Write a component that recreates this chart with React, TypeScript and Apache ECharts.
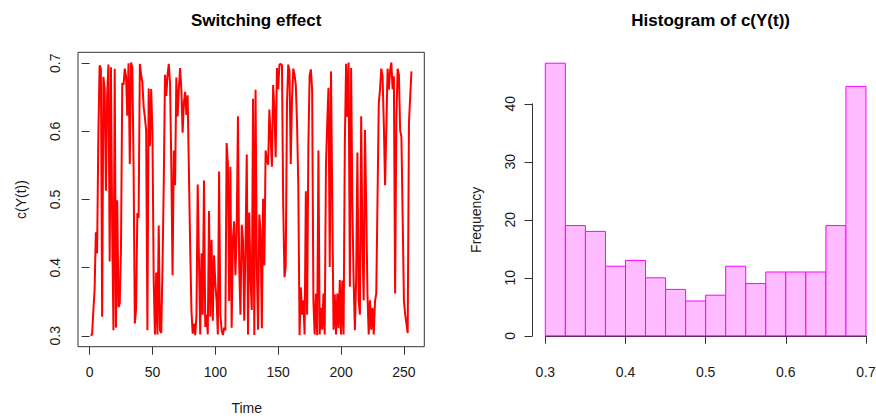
import React, { useEffect, useRef } from "react";
import * as echarts from "echarts";

// Time series c(Y(t)), t = 1..256
const seriesValues: number[] = [
  0.300, 0.302, 0.336, 0.368, 0.452, 0.421, 0.597, 0.697, 0.692, 0.328,
  0.680, 0.662, 0.513, 0.654, 0.698, 0.409, 0.694, 0.459, 0.308, 0.692,
  0.312, 0.499, 0.342, 0.348, 0.431, 0.671, 0.668, 0.692, 0.681, 0.623,
  0.700, 0.552, 0.701, 0.694, 0.548, 0.318, 0.339, 0.480, 0.473, 0.699,
  0.683, 0.672, 0.636, 0.621, 0.601, 0.308, 0.663, 0.578, 0.662, 0.598,
  0.381, 0.302, 0.393, 0.302, 0.462, 0.308, 0.304, 0.401, 0.522, 0.683,
  0.652, 0.682, 0.699, 0.671, 0.552, 0.389, 0.572, 0.521, 0.679, 0.622,
  0.662, 0.693, 0.661, 0.598, 0.642, 0.658, 0.624, 0.653, 0.541, 0.432,
  0.338, 0.303, 0.318, 0.301, 0.329, 0.522, 0.412, 0.302, 0.421, 0.331,
  0.528, 0.313, 0.331, 0.302, 0.483, 0.328, 0.441, 0.322, 0.418, 0.378,
  0.352, 0.302, 0.541, 0.331, 0.309, 0.301, 0.312, 0.308, 0.583, 0.552,
  0.351, 0.548, 0.312, 0.442, 0.468, 0.389, 0.452, 0.622, 0.401, 0.331,
  0.463, 0.441, 0.322, 0.431, 0.566, 0.302, 0.481, 0.383, 0.338, 0.648,
  0.301, 0.661, 0.402, 0.309, 0.478, 0.452, 0.311, 0.501, 0.403, 0.572,
  0.558, 0.551, 0.632, 0.591, 0.548, 0.668, 0.631, 0.562, 0.693, 0.662,
  0.698, 0.699, 0.697, 0.491, 0.386, 0.402, 0.641, 0.698, 0.688, 0.552,
  0.648, 0.692, 0.683, 0.668, 0.612, 0.521, 0.301, 0.371, 0.331, 0.352,
  0.302, 0.512, 0.331, 0.578, 0.682, 0.691, 0.661, 0.352, 0.302, 0.362,
  0.301, 0.572, 0.302, 0.341, 0.309, 0.362, 0.302, 0.551, 0.612, 0.664,
  0.401, 0.688, 0.502, 0.309, 0.361, 0.302, 0.362, 0.311, 0.382, 0.302,
  0.381, 0.302, 0.582, 0.699, 0.621, 0.701, 0.372, 0.693, 0.491, 0.381,
  0.308, 0.382, 0.569, 0.352, 0.331, 0.622, 0.432, 0.352, 0.602, 0.491,
  0.361, 0.302, 0.352, 0.309, 0.341, 0.302, 0.351, 0.362, 0.501, 0.641,
  0.662, 0.692, 0.681, 0.612, 0.521, 0.603, 0.692, 0.661, 0.689, 0.701,
  0.662, 0.681, 0.362, 0.621, 0.692, 0.683, 0.601, 0.592, 0.472, 0.352,
  0.331, 0.318, 0.304, 0.612, 0.652, 0.688,
];

// Histogram of c(Y(t))
const histBreaks: number[] = [
  0.3, 0.325, 0.35, 0.375, 0.4, 0.425, 0.45, 0.475, 0.5,
  0.525, 0.55, 0.575, 0.6, 0.625, 0.65, 0.675, 0.7,
];
const histCounts: number[] = [47, 19, 18, 12, 13, 10, 8, 6, 7, 12, 9, 11, 11, 11, 19, 43];

// Axis tick ranges [min, max, step]
const timeTicks: number[] = [0, 250, 50];
const valueTicks: number[] = [0.3, 0.7, 0.1];
const freqTicks: number[] = [0, 40, 10];

const FONT = "'Liberation Sans', Arial, Helvetica, sans-serif";
const TXT = "#1a1a1a";
const AX = "#333333";

export default function App() {
  const ref = useRef<HTMLDivElement>(null);

  useEffect(() => {
    if (!ref.current) return;
    const chart = echarts.init(ref.current, undefined, { renderer: "svg" });

    // Plot regions (R style: data range extended by 4%)
    const T = 52.3, PH = 294.4, PW = 346.3;
    const L1 = 78, L2 = 532.5;
    const n = seriesValues.length;
    const ext = (a: number, b: number): [number, number] => [a - (b - a) * 0.04, b + (b - a) * 0.04];
    const xLim1 = ext(1, n);
    const yLim1 = ext(valueTicks[0], valueTicks[1]);
    const xLim2 = ext(histBreaks[0], histBreaks[histBreaks.length - 1]);
    const yLim2 = ext(0, Math.max(...histCounts));

    const mapX = (v: number, lim: [number, number], L: number) => L + ((v - lim[0]) / (lim[1] - lim[0])) * PW;
    const mapY = (v: number, lim: [number, number]) => T + PH - ((v - lim[0]) / (lim[1] - lim[0])) * PH;

    const g1Left = mapX(timeTicks[0], xLim1, L1);
    const g1Right = mapX(timeTicks[1], xLim1, L1);
    const g1Top = mapY(valueTicks[1], yLim1);
    const g1Bottom = mapY(valueTicks[0], yLim1);

    const g3Left = mapX(histBreaks[0], xLim2, L2);
    const g3Right = mapX(histBreaks[histBreaks.length - 1], xLim2, L2);
    const g3Top = mapY(freqTicks[1], yLim2);
    const g3Bottom = mapY(freqTicks[0], yLim2);

    const bottomEdge = T + PH;

    const labelStyle = { color: TXT, fontSize: 14, fontFamily: FONT };
    const tickStyle = { show: true, inside: false, length: 8, lineStyle: { color: AX, width: 1 } };

    const option: any = {
      animation: false,
      backgroundColor: "#ffffff",
      title: [
        {
          text: "Switching effect",
          left: L1 + PW / 2,
          top: 7,
          textAlign: "center",
          textStyle: { fontSize: 17, fontWeight: "bold", color: "#000", fontFamily: FONT },
        },
        {
          text: "Histogram of c(Y(t))",
          left: L2 + PW / 2,
          top: 7,
          textAlign: "center",
          textStyle: { fontSize: 17, fontWeight: "bold", color: "#000", fontFamily: FONT },
        },
      ],
      grid: [
        { left: L1, top: T, width: PW, height: PH, show: true, borderColor: AX, borderWidth: 1, backgroundColor: "transparent", containLabel: false, outerBoundsMode: "none" },
        { left: g1Left, top: g1Top, width: g1Right - g1Left, height: g1Bottom - g1Top, containLabel: false, outerBoundsMode: "none" },
        { left: L2, top: T, width: PW, height: PH, containLabel: false, outerBoundsMode: "none" },
        { left: g3Left, top: g3Top, width: g3Right - g3Left, height: g3Bottom - g3Top, containLabel: false, outerBoundsMode: "none" },
      ],
      xAxis: [
        { gridIndex: 0, type: "value", min: xLim1[0], max: xLim1[1], show: false },
        {
          gridIndex: 1, type: "value", min: timeTicks[0], max: timeTicks[1], interval: timeTicks[2],
          position: "bottom", offset: bottomEdge - g1Bottom,
          axisLine: { show: false }, axisTick: tickStyle, splitLine: { show: false },
          axisLabel: { ...labelStyle, margin: 18, showMinLabel: true, showMaxLabel: true },
          name: "Time", nameLocation: "middle", nameGap: 54,
          nameTextStyle: { ...labelStyle },
        },
        { gridIndex: 2, type: "value", min: xLim2[0], max: xLim2[1], show: false },
        {
          gridIndex: 3, type: "value", min: valueTicks[0], max: histBreaks[histBreaks.length - 1], interval: valueTicks[2],
          position: "bottom", offset: bottomEdge - g3Bottom,
          axisLine: { show: true, lineStyle: { color: AX, width: 1 } }, axisTick: tickStyle, splitLine: { show: false },
          axisLabel: { ...labelStyle, margin: 18, showMinLabel: true, showMaxLabel: true, formatter: (v: number) => v.toFixed(1) },
        },
      ],
      yAxis: [
        { gridIndex: 0, type: "value", min: yLim1[0], max: yLim1[1], show: false },
        {
          gridIndex: 1, type: "value", min: valueTicks[0], max: valueTicks[1], interval: valueTicks[2],
          position: "left", offset: g1Left - L1,
          axisLine: { show: false }, axisTick: tickStyle, splitLine: { show: false },
          axisLabel: { ...labelStyle, margin: 16, rotate: 90, showMinLabel: true, showMaxLabel: true, formatter: (v: number) => v.toFixed(1) },
          name: "c(Y(t))", nameLocation: "middle", nameGap: 50, nameRotate: 90,
          nameTextStyle: { ...labelStyle },
        },
        { gridIndex: 2, type: "value", min: yLim2[0], max: yLim2[1], show: false },
        {
          gridIndex: 3, type: "value", min: freqTicks[0], max: freqTicks[1], interval: freqTicks[2],
          position: "left", offset: g3Left - L2,
          axisLine: { show: true, lineStyle: { color: AX, width: 1 } }, axisTick: tickStyle, splitLine: { show: false },
          axisLabel: { ...labelStyle, margin: 16, rotate: 90, showMinLabel: true, showMaxLabel: true },
          name: "Frequency", nameLocation: "middle", nameGap: 50, nameRotate: 90,
          nameTextStyle: { ...labelStyle },
        },
      ],
      series: [
        {
          type: "line",
          xAxisIndex: 0,
          yAxisIndex: 0,
          data: seriesValues.map((v, i) => [i + 1, v]),
          symbol: "none",
          lineStyle: { color: "#ff0000", width: 2 },
          itemStyle: { color: "#ff0000" },
          clip: false,
        },
        {
          type: "custom",
          xAxisIndex: 2,
          yAxisIndex: 2,
          data: histCounts.map((c, i) => [histBreaks[i], histBreaks[i + 1], c]),
          encode: { x: [0, 1], y: 2 },
          renderItem: (_params: any, api: any) => {
            const x0 = api.value(0);
            const x1 = api.value(1);
            const c = api.value(2);
            const p0 = api.coord([x0, 0]);
            const p1 = api.coord([x1, c]);
            return {
              type: "rect",
              shape: { x: p0[0], y: p1[1], width: p1[0] - p0[0], height: p0[1] - p1[1] },
              style: { fill: "#FFBBFF", stroke: "#FF00FF", lineWidth: 1 },
            };
          },
        },
      ],
    };

    chart.setOption(option);
    return () => chart.dispose();
  }, []);

  return (
    <div
      ref={ref}
      style={{ position: "fixed", left: 0, top: 0, width: 876, height: 419, background: "#fff" }}
    />
  );
}
